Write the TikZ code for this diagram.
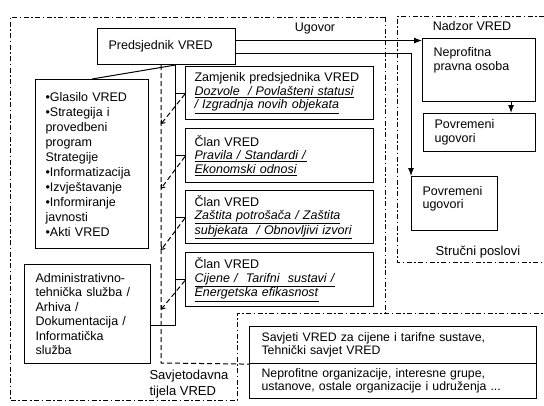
\documentclass[tikz,border=0pt]{standalone}
\usepackage{fontspec}
\setmainfont{Liberation Sans}
\usetikzlibrary{arrows.meta,calc}
\newcommand{\uital}[1]{\underline{\textit{#1}}}
\tikzset{
  box/.style={draw, line width=1.1pt, anchor=north west, align=left, inner ysep=2pt,
    font=\fontsize{12.5}{14}\selectfont},
  region/.style={line width=0.9pt, dash pattern=on 5pt off 2.5pt on 1.5pt off 2.5pt},
  svline/.style={line width=1pt, dash pattern=on 5pt off 3pt},
  conn/.style={line width=1pt},
  arr/.style={conn, -{Latex[length=8pt,width=6pt]}},
  dasharr/.style={svline, -{Straight Barb[length=3pt,width=5pt]}},
  lbl/.style={font=\fontsize{12.5}{14}\selectfont}
}
\begin{document}
\begin{tikzpicture}[x=1pt,y=-1pt]
	    \useasboundingbox (0,0) rectangle (544,405);
	    \draw[region] (385,17) -- (10,17) -- (10,400) -- (237,400) -- (237,313) -- (544,313);
	    \draw[region] (385,17) -- (385,313);
	    \draw[region] (544,16) -- (397,16) -- (397,262) -- (544,262);
	    \node[box, text width=116pt, inner xsep=11pt, minimum height=36pt] (pred) at (97,28) {Predsjednik VRED};
	    \node[box, text width=93pt, inner xsep=10pt, minimum height=169pt, font=\fontsize{12.5}{15}\selectfont] (bul) at (35,79)
	        {•Glasilo VRED\\•Strategija i\\provedbeni\\program\\Strategije\\•Informatizacija\\•Izvještavanje\\•Informiranje\\javnosti\\•Akti VRED};
	    \node[box, text width=104pt, inner xsep=11pt, minimum height=99pt, font=\fontsize{12.5}{14.5}\selectfont] (adm) at (24,264)
	        {Administrativno-\\tehnička služba /\\Arhiva /\\Dokumentacija /\\Informatička\\služba};
	    \node[box, text width=170pt, inner xsep=9pt, minimum height=53pt, font=\fontsize{12.5}{13.5}\selectfont] (zam) at (185,66)
	        {Zamjenik predsjednika VRED\\\uital{Dozvole~ / Povlašteni statusi}\\\uital{/ Izgradnja novih objekata}};
	    \node[box, text width=170pt, inner xsep=9pt, minimum height=54pt, font=\fontsize{12.5}{13.5}\selectfont] (clanb) at (185,128)
	        {Član VRED\\\uital{Pravila / Standardi /}\\\uital{Ekonomski odnosi}};
	    \node[box, text width=170pt, inner xsep=9pt, minimum height=53pt, font=\fontsize{12.5}{13.5}\selectfont] (clanc) at (185,190)
	        {Član VRED\\\uital{Zaštita potrošača / Zaštita}\\\uital{subjekata~ / Obnovljivi izvori}};
	    \node[box, text width=170pt, inner xsep=9pt, minimum height=54pt, font=\fontsize{12.5}{13.5}\selectfont] (pland) at (185,252)
	        {Član VRED\\\uital{Cijene / ~Tarifni~ sustavi /}\\\uital{Energetska efikasnost}};
	    \node[box, inner xsep=11pt, inner ysep=4pt] (nepro) at (422,38)
	        {\parbox[c][55pt][t]{91pt}{\rule{0pt}{14pt}Neprofitna\\pravna osoba}};
	    \node[box, text width=90pt, inner xsep=11pt, minimum height=38pt] (povu) at (423,113) {Povremeni\\ugovori};
	    \node[box, inner xsep=11pt, inner ysep=4pt, font=\fontsize{12.5}{13}\selectfont] (povd) at (411,176)
	        {\parbox[c][46pt][t]{64pt}{\rule{0pt}{14.5pt}Povremeni\\ugovori}};
	    \node[box, text width=263pt, inner xsep=12pt, minimum height=37pt, font=\fontsize{12.3}{12.5}\selectfont] (sava) at (249,326)
	        {Savjeti VRED za cijene i tarifne sustave,\\Tehnički savjet VRED};
	    \node[box, text width=263pt, inner xsep=12pt, minimum height=35pt, font=\fontsize{12.3}{12.5}\selectfont] (savb) at (249,363)
	        {Neprofitne organizacije, interesne grupe,\\ustanove, ostale organizacije i udruženja ...};
	    \node[lbl] (ugov) at (315,28) {Ugovor};
	    \node[lbl] (nadz) at (472,26) {Nadzor VRED};
	    \node[lbl, font=\fontsize{13}{14}\selectfont] (struc) at (478,252) {Stručni poslovi};
	    \node[lbl, anchor=west, align=left, font=\fontsize{13}{16}\selectfont] (savt) at (146,384) {Savjetodavna\\tijela VRED};
	    \coordinate (tr) at (175,325);
	    \coordinate (sv) at (161,363);
	    \coordinate (pu) at ($(pred.east)+(0,-6)$);
	    \coordinate (pl) at ($(pred.east)+(0,7)$);
	    \coordinate (nd) at ($(nepro.south)+(32,0)$);
	    \draw[arr] (pu) -- (pu -| nepro.west);
	    \draw[arr] (pl) -| (povd.north west);
	    \draw[arr] (nd) -- (nd |- povu.north);
	    \draw[conn] (bul.north) -- (pred.south -| tr);
	    \draw[conn] (pred.south -| tr) -- (tr) -- (tr -| adm.east);
	    \draw[conn] (tr |- zam.west) -- (zam.west);
	    \draw[conn] (tr |- clanb.west) -- (clanb.west);
	    \draw[conn] (tr |- clanc.west) -- (clanc.west);
	    \draw[conn] (tr |- pland.west) -- (pland.west);
	    \draw[svline] (pred.south -| sv) -- (sv) -- (sava.south west);
	    \draw[dasharr] ($(zam.west)+(0,1)$) -- ($(zam.west -| sv)+(0,31)$);
	    \draw[dasharr] ($(clanb.west)+(0,1)$) -- ($(clanb.west -| sv)+(0,33)$);
	    \draw[dasharr] ($(clanc.west)+(0,1)$) -- ($(clanc.west -| sv)+(0,33)$);
	    \draw[dasharr] ($(pland.west)+(0,1)$) -- ($(pland.west -| sv)+(0,30)$);
\end{tikzpicture}
\end{document}
